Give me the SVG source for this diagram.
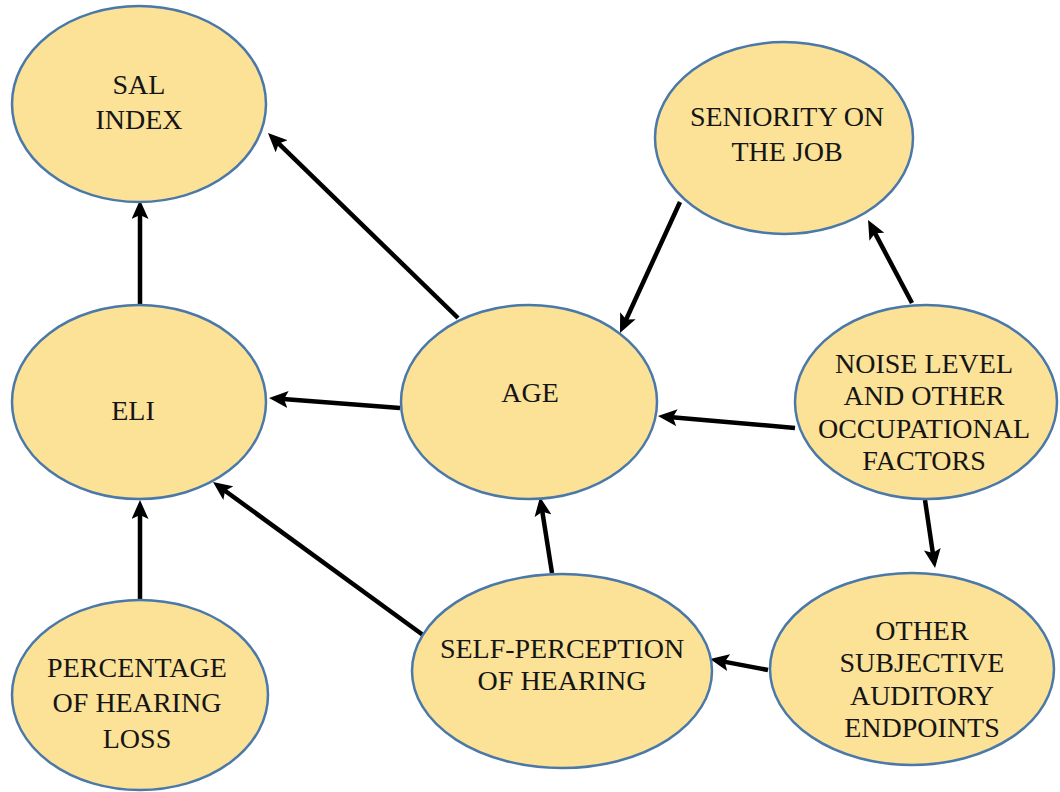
<svg xmlns="http://www.w3.org/2000/svg" width="1060" height="792" viewBox="0 0 1060 792">
<style>
.node ellipse{fill:#FBE297;stroke:#4A78A8;stroke-width:2.5}
.node text{font-family:"Liberation Serif","Times New Roman",serif;font-size:28px;fill:#151515;text-anchor:middle}
.edge{stroke:#000;stroke-width:4.5;fill:none;marker-end:url(#ah)}
</style>
<defs>
<marker id="ah" viewBox="0 0 19 17" refX="5" refY="8.5" markerWidth="19" markerHeight="17" markerUnits="userSpaceOnUse" orient="auto">
<path d="M0,0 L19,8.5 L0,17 L4,8.5 z" fill="#000"/>
</marker>
</defs>
<rect width="1060" height="792" fill="#fff"/>
<g id="connectors">
<line class="edge" x1="140" y1="307" x2="140" y2="214"/>
<line class="edge" x1="458" y1="318" x2="278" y2="142.8"/>
<line class="edge" x1="400" y1="408" x2="283" y2="399.1"/>
<line class="edge" x1="680" y1="202" x2="625.8" y2="320.3"/>
<line class="edge" x1="912" y1="303" x2="874.6" y2="232.4"/>
<line class="edge" x1="795" y1="428" x2="671.9" y2="417.2"/>
<line class="edge" x1="925" y1="500" x2="933" y2="554.1"/>
<line class="edge" x1="768" y1="670" x2="723.8" y2="661.6"/>
<line class="edge" x1="552" y1="573" x2="542.2" y2="510.8"/>
<line class="edge" x1="423" y1="635" x2="224.3" y2="490.2"/>
<line class="edge" x1="140" y1="605" x2="140" y2="514"/>
</g>
<g id="sal" class="node">
<ellipse cx="139" cy="104" rx="127" ry="98"/>
<text x="139" y="94">SAL</text>
<text x="139" y="129">INDEX</text>
</g>
<g id="seniority" class="node">
<ellipse cx="784" cy="138" rx="129" ry="96"/>
<text x="787" y="126">SENIORITY ON</text>
<text x="787" y="161">THE JOB</text>
</g>
<g id="eli" class="node">
<ellipse cx="139" cy="402" rx="127" ry="97"/>
<text x="133" y="420">ELI</text>
</g>
<g id="age" class="node">
<ellipse cx="529" cy="402" rx="128" ry="97"/>
<text x="530" y="402">AGE</text>
</g>
<g id="noise" class="node">
<ellipse cx="926" cy="402" rx="131" ry="97"/>
<text x="924" y="373">NOISE LEVEL</text>
<text x="924" y="405">AND OTHER</text>
<text x="924" y="438">OCCUPATIONAL</text>
<text x="924" y="470">FACTORS</text>
</g>
<g id="percentage" class="node">
<ellipse cx="140" cy="695" rx="128" ry="95"/>
<text x="137" y="677">PERCENTAGE</text>
<text x="137" y="712">OF HEARING</text>
<text x="137" y="748">LOSS</text>
</g>
<g id="self" class="node">
<ellipse cx="562" cy="671" rx="150" ry="97"/>
<text x="562" y="658">SELF-PERCEPTION</text>
<text x="562" y="690">OF HEARING</text>
</g>
<g id="other" class="node">
<ellipse cx="912" cy="669" rx="142" ry="96"/>
<text x="922" y="640">OTHER</text>
<text x="922" y="672">SUBJECTIVE</text>
<text x="922" y="705">AUDITORY</text>
<text x="922" y="737">ENDPOINTS</text>
</g>
</svg>
